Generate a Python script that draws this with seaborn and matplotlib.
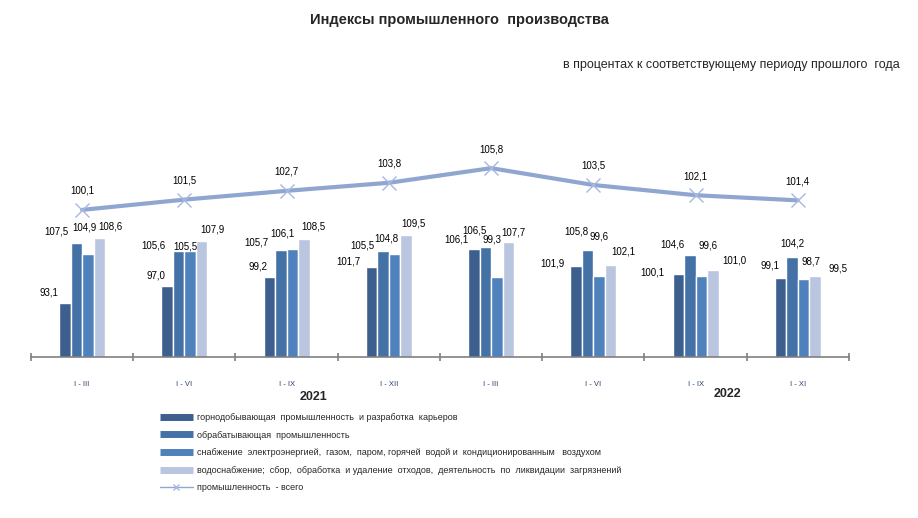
import numpy as np
import pandas as pd
import matplotlib
matplotlib.use('Agg')
import matplotlib.pyplot as plt
from matplotlib.lines import Line2D
import seaborn as sns

# данные
periods = ['I - III', 'I - VI', 'I - IX', 'I - XII', 'I - III', 'I - VI', 'I - IX', 'I - XI']
years = ['2021'] * 4 + ['2022'] * 4
series_names = [
    'горнодобывающая  промышленность  и разработка  карьеров',
    'обрабатывающая  промышленность',
    'снабжение  электроэнергией,  газом,  паром, горячей  водой и  кондиционированным   воздухом',
    'водоснабжение;  сбор,  обработка  и удаление  отходов,  деятельность  по  ликвидации  загрязнений',
]
mining = [93.1, 97.0, 99.2, 101.7, 106.1, 101.9, 100.1, 99.1]
manufacturing = [107.5, 105.6, 105.7, 105.5, 106.5, 105.8, 104.6, 104.2]
electricity = [104.9, 105.5, 106.1, 104.8, 99.3, 99.6, 99.6, 98.7]
water = [108.6, 107.9, 108.5, 109.5, 107.7, 102.1, 101.0, 99.5]
total_name = 'промышленность  - всего'
total = [100.1, 101.5, 102.7, 103.8, 105.8, 103.5, 102.1, 101.4]

# смещения подписей (px): dx, dy вверх
label_offsets = [
    [(-16, 10), (-20, 11), (-3, 26), (11, 12)],
    [(-11, 11), (-25, 5), (-5, 5), (11, 12)],
    [(-11, 11), (-24, 8), (-10, 15), (9, 12)],
    [(-23, 5), (-21, 6), (-8, 16), (7, 11)],
    [(-17, 9), (-11, 17), (-5, 37), (5, 10)],
    [(-24, 3), (-11, 18), (0, 39), (13, 14)],
    [(-26, 1), (-17, 10), (7, 30), (21, 9)],
    [(-11, 12), (0, 13), (7, 18), (23, 8)],
]

colors = ['#3C5F8E', '#4472A7', '#4F81BD', '#BAC6E0']
line_color = '#8FA6D0'
marker_color = '#A6B8DD'

sns.set_style('white')
plt.rcParams['font.family'] = ['Liberation Sans', 'DejaVu Sans']

keys = [f'{y} {p}' for y, p in zip(years, periods)]
df = pd.DataFrame({'key': keys * 4,
                   'series': np.repeat(series_names, len(keys)),
                   'value': mining + manufacturing + electricity + water})

fig = plt.figure(figsize=(9.18, 5.18), dpi=100)
ax = fig.add_axes([31 / 918, 1 - 357 / 518, 818 / 918, 257 / 518])

sns.barplot(data=df, x='key', y='value', hue='series', hue_order=series_names,
            order=keys, palette=colors, width=0.45, gap=0, saturation=1,
            legend=False, ax=ax)
ax.set_ylim(80, 80 + 257 / 4.15)
ax.set_xlim(-0.5, len(keys) - 0.5)
ax.set_xlabel('')
ax.set_ylabel('')
ax.set_yticks([])

# подписи столбцов
for i, cont in enumerate(ax.containers):
    for j, bar in enumerate(cont):
        dx, dy = label_offsets[j][i]
        ax.annotate(f'{bar.get_height():.1f}'.replace('.', ','),
                    (bar.get_x() + bar.get_width() / 2, bar.get_height()),
                    xytext=(dx, dy), textcoords='offset pixels',
                    ha='center', va='center', fontsize=7, color='black')

# ось X
for s in ['top', 'left', 'right']:
    ax.spines[s].set_visible(False)
ax.spines['bottom'].set_color('#808080')
ax.spines['bottom'].set_linewidth(1.2)
ax.set_xticks(range(len(keys)))
ax.set_xticklabels(periods, fontsize=5.5, color='#2B3F6B')
ax.set_xticks(np.arange(-0.5, len(keys)), minor=True)
ax.tick_params(axis='x', which='major', length=0, pad=17, bottom=True)
ax.tick_params(axis='x', which='minor', length=6, color='#808080', width=1.2,
               direction='inout', bottom=True)

# линия - всего
ax2 = ax.twinx()
x_pos = np.arange(len(total))
sns.lineplot(x=x_pos, y=total, color=line_color, linewidth=3, ax=ax2)
ax2.plot(x_pos, total, linestyle='none', marker='x', markersize=10,
         markeredgewidth=1, color=marker_color)
ax2.set_ylim(80, 80 + 257 / 7.32)
ax2.set_yticks([])
for s in ax2.spines.values():
    s.set_visible(False)
for xv, yv in zip(x_pos, total):
    ax2.annotate(f'{yv:.1f}'.replace('.', ','), (xv, yv), xytext=(0, 19),
                 textcoords='offset pixels', ha='center', va='center',
                 fontsize=7, color='black')

# года
fig.text(314 / 918, 1 - 397 / 518, '2021', ha='center', va='center',
         fontsize=9, fontweight='bold')
fig.text(727 / 918, 1 - 394 / 518, '2022', ha='center', va='center',
         fontsize=9, fontweight='bold')

# заголовки
fig.text(459 / 918, 1 - 20 / 518, 'Индексы промышленного  производства',
         ha='center', va='center', fontsize=10.5, fontweight='bold')
fig.text(900 / 918, 1 - 65 / 518,
         'в процентах к соответствующему периоду прошлого  года',
         ha='right', va='center', fontsize=9)

# легенда
handles = [Line2D([0], [0], color=c, lw=5, solid_capstyle='butt') for c in colors]
handles.append(Line2D([0], [0], color=line_color, lw=1, marker='x',
                      markersize=5, markeredgecolor=marker_color))
fig.legend(handles, series_names + [total_name], loc='upper left',
           bbox_to_anchor=(160 / 918, 1 - 413 / 518), frameon=False,
           fontsize=6.5, handlelength=3.6, handletextpad=0.5,
           labelspacing=0.95, borderaxespad=0, borderpad=0)

plt.savefig('out.png', dpi=100)
